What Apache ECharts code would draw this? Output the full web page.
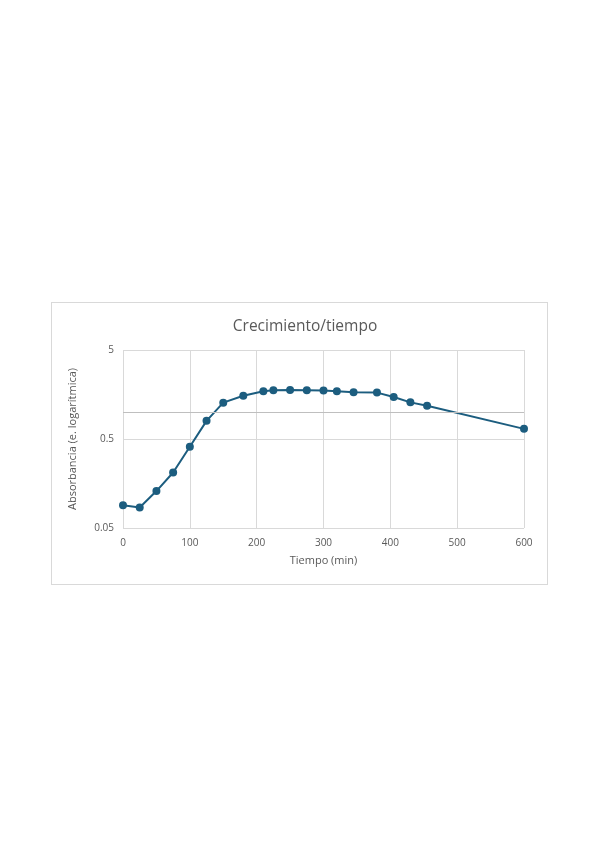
<!DOCTYPE html>
<html>
<head>
<meta charset="utf-8">
<script src="https://cdn.jsdelivr.net/npm/echarts@6/dist/echarts.min.js"></script>
<style>
  html, body { margin: 0; padding: 0; background: #fff; }
  #frame {
    position: absolute; left: 51px; top: 302px;
    width: 497px; height: 283px;
    border: 1px solid #d9d9d9; box-sizing: border-box;
  }
  #chart { position: absolute; left: 0; top: 0; width: 599px; height: 848px; }
</style>
</head>
<body>
<div id="frame"></div>
<div id="chart"></div>
<script>
  // tiempo (min) y absorbancia
  const tiempos = [0, 25, 50, 75, 100, 125, 150, 180, 210, 225, 250, 275, 300, 320, 345, 380, 405, 430, 455, 600];
  const absorbancia = [0.09, 0.085, 0.13, 0.21, 0.41, 0.80, 1.28, 1.53, 1.72, 1.77, 1.78, 1.77, 1.75, 1.72, 1.68, 1.66, 1.48, 1.29, 1.18, 0.65];
  const ejeX = [0, 600, 100];
  const ejeY = [0.05, 5];

  const puntos = tiempos.map((t, i) => [t, absorbancia[i]]);
  const gris = "#595959";
  const fuente = "'Open Sans', Lato, sans-serif";

  const chart = echarts.init(document.getElementById("chart"));
  chart.setOption({
    animation: false,
    title: {
      text: "Crecimiento/tiempo",
      left: 300,
      textAlign: "center",
      top: 314,
      textStyle: { fontFamily: fuente, fontWeight: "normal", fontSize: 15.5, color: gris },
    },
    grid: { left: 123, right: 75, top: 350, bottom: 320, outerBoundsMode: "none" },
    xAxis: {
      type: "value",
      min: ejeX[0],
      max: ejeX[1],
      interval: ejeX[2],
      name: "Tiempo (min)",
      nameLocation: "middle",
      nameGap: 27,
      nameTextStyle: { fontFamily: fuente, fontSize: 11, color: gris },
      axisLine: { show: false },
      axisTick: { show: false },
      axisLabel: { fontFamily: fuente, fontSize: 10, color: gris, margin: 10 },
      splitLine: { lineStyle: { color: "#d9d9d9", width: 1 } },
    },
    yAxis: {
      type: "log",
      logBase: 10,
      min: ejeY[0],
      max: ejeY[1],
      interval: 1,
      name: "Absorbancia (e. logarítmica)",
      nameLocation: "middle",
      nameRotate: 90,
      nameGap: 45,
      nameTextStyle: { fontFamily: fuente, fontSize: 11, color: gris },
      axisLine: { show: false },
      axisTick: { show: false },
      axisLabel: {
        fontFamily: fuente, fontSize: 10, color: gris, margin: 9,
        formatter: (v) => String(Number(Number(v).toPrecision(2))),
      },
      splitLine: { lineStyle: { color: "#d9d9d9", width: 1 } },
    },
    series: [
      {
        type: "line",
        data: puntos,
        symbol: "circle",
        symbolSize: 8,
        lineStyle: { color: "#1c5d7f", width: 2 },
        itemStyle: { color: "#1c5d7f" },
        markLine: {
          silent: true,
          symbol: "none",
          label: { show: false },
          lineStyle: { color: "#bfbfbf", type: "solid", width: 1 },
          data: [{ yAxis: 1 }],
        },
      },
    ],
  });
</script>
</body>
</html>
